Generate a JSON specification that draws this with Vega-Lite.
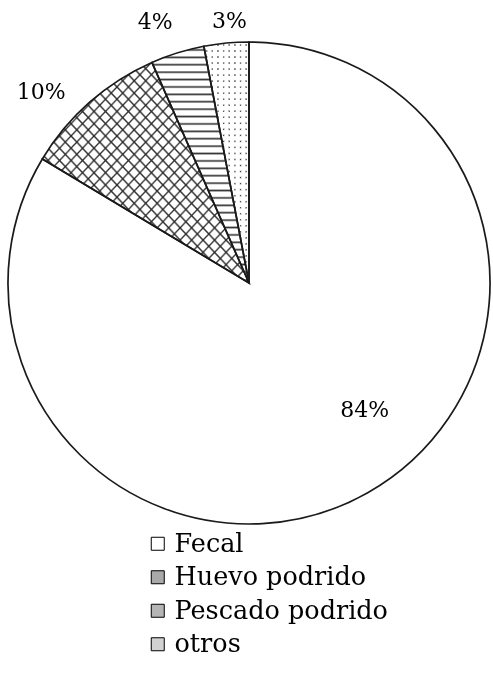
{
"$schema": "https://vega.github.io/schema/vega-lite/v6.json",
"width": 498, "height": 558, "padding": 0, "autosize": "pad",
"background": "white",
"config": {"view": {"stroke": null}, "font": "DejaVu Serif"},
"data": {"values": [
 {"cat": "Fecal", "value": 83.6, "ord": 1, "label": "84%"},
 {"cat": "Huevo podrido", "value": 9.8, "ord": 2, "label": "10%"},
 {"cat": "Pescado podrido", "value": 3.6, "ord": 3, "label": "4%"},
 {"cat": "otros", "value": 3.0, "ord": 4, "label": "3%"}
]},
"encoding": {
 "theta": {"field": "value", "type": "quantitative", "stack": true},
 "order": {"field": "ord", "type": "quantitative"}
},
"layer": [
 {"mark": {"type": "arc", "radius": 241},
  "encoding": {"color": {"field": "cat", "type": "nominal",
   "scale": {"domain": ["Fecal", "Huevo podrido", "Pescado podrido", "otros"], "range": ["#ffffff", "#a9a9a9", "#b5b5b5", "#d2d2d2"]},
   "legend": {"title": null, "orient": "none", "legendX": 145, "legendY": 527, "direction": "vertical", "symbolType": "square", "symbolSize": 169, "symbolStrokeColor": "black", "symbolStrokeWidth": 1, "labelFont": "DejaVu Serif", "labelFontSize": 25.5, "labelColor": "black", "labelOffset": 4, "rowPadding": 6.5, "padding": 0, "labelLimit": 400}}}},
 {"mark": {"type": "arc", "radius": 241},
  "encoding": {"fill": {"condition": {"test": "datum.cat === 'Huevo podrido'", "value": {"gradient": "linear", "x1": 0, "y1": 0, "x2": 1, "y2": 1, "stops": [
{"offset":0.0094,"color":"#fff"},{"offset":0.0139,"color":"#333"},{"offset":0.0184,"color":"#fff"},
{"offset":0.0372,"color":"#fff"},{"offset":0.0417,"color":"#333"},{"offset":0.0462,"color":"#fff"},
{"offset":0.0649,"color":"#fff"},{"offset":0.0694,"color":"#333"},{"offset":0.0739,"color":"#fff"},
{"offset":0.0927,"color":"#fff"},{"offset":0.0972,"color":"#333"},{"offset":0.1017,"color":"#fff"},
{"offset":0.1205,"color":"#fff"},{"offset":0.125,"color":"#333"},{"offset":0.1295,"color":"#fff"},
{"offset":0.1483,"color":"#fff"},{"offset":0.1528,"color":"#333"},{"offset":0.1573,"color":"#fff"},
{"offset":0.1761,"color":"#fff"},{"offset":0.1806,"color":"#333"},{"offset":0.1851,"color":"#fff"},
{"offset":0.2038,"color":"#fff"},{"offset":0.2083,"color":"#333"},{"offset":0.2128,"color":"#fff"},
{"offset":0.2316,"color":"#fff"},{"offset":0.2361,"color":"#333"},{"offset":0.2406,"color":"#fff"},
{"offset":0.2594,"color":"#fff"},{"offset":0.2639,"color":"#333"},{"offset":0.2684,"color":"#fff"},
{"offset":0.2872,"color":"#fff"},{"offset":0.2917,"color":"#333"},{"offset":0.2962,"color":"#fff"},
{"offset":0.3149,"color":"#fff"},{"offset":0.3194,"color":"#333"},{"offset":0.3239,"color":"#fff"},
{"offset":0.3427,"color":"#fff"},{"offset":0.3472,"color":"#333"},{"offset":0.3517,"color":"#fff"},
{"offset":0.3705,"color":"#fff"},{"offset":0.375,"color":"#333"},{"offset":0.3795,"color":"#fff"},
{"offset":0.3983,"color":"#fff"},{"offset":0.4028,"color":"#333"},{"offset":0.4073,"color":"#fff"},
{"offset":0.4261,"color":"#fff"},{"offset":0.4306,"color":"#333"},{"offset":0.4351,"color":"#fff"},
{"offset":0.4538,"color":"#fff"},{"offset":0.4583,"color":"#333"},{"offset":0.4628,"color":"#fff"},
{"offset":0.4816,"color":"#fff"},{"offset":0.4861,"color":"#333"},{"offset":0.4906,"color":"#fff"},
{"offset":0.5094,"color":"#fff"},{"offset":0.5139,"color":"#333"},{"offset":0.5184,"color":"#fff"},
{"offset":0.5372,"color":"#fff"},{"offset":0.5417,"color":"#333"},{"offset":0.5462,"color":"#fff"},
{"offset":0.5649,"color":"#fff"},{"offset":0.5694,"color":"#333"},{"offset":0.5739,"color":"#fff"},
{"offset":0.5927,"color":"#fff"},{"offset":0.5972,"color":"#333"},{"offset":0.6017,"color":"#fff"},
{"offset":0.6205,"color":"#fff"},{"offset":0.625,"color":"#333"},{"offset":0.6295,"color":"#fff"},
{"offset":0.6483,"color":"#fff"},{"offset":0.6528,"color":"#333"},{"offset":0.6573,"color":"#fff"},
{"offset":0.6761,"color":"#fff"},{"offset":0.6806,"color":"#333"},{"offset":0.6851,"color":"#fff"},
{"offset":0.7038,"color":"#fff"},{"offset":0.7083,"color":"#333"},{"offset":0.7128,"color":"#fff"},
{"offset":0.7316,"color":"#fff"},{"offset":0.7361,"color":"#333"},{"offset":0.7406,"color":"#fff"},
{"offset":0.7594,"color":"#fff"},{"offset":0.7639,"color":"#333"},{"offset":0.7684,"color":"#fff"},
{"offset":0.7872,"color":"#fff"},{"offset":0.7917,"color":"#333"},{"offset":0.7962,"color":"#fff"},
{"offset":0.8149,"color":"#fff"},{"offset":0.8194,"color":"#333"},{"offset":0.8239,"color":"#fff"},
{"offset":0.8427,"color":"#fff"},{"offset":0.8472,"color":"#333"},{"offset":0.8517,"color":"#fff"},
{"offset":0.8705,"color":"#fff"},{"offset":0.875,"color":"#333"},{"offset":0.8795,"color":"#fff"},
{"offset":0.8983,"color":"#fff"},{"offset":0.9028,"color":"#333"},{"offset":0.9073,"color":"#fff"},
{"offset":0.9261,"color":"#fff"},{"offset":0.9306,"color":"#333"},{"offset":0.9351,"color":"#fff"},
{"offset":0.9538,"color":"#fff"},{"offset":0.9583,"color":"#333"},{"offset":0.9628,"color":"#fff"},
{"offset":0.9816,"color":"#fff"},{"offset":0.9861,"color":"#333"},{"offset":0.9906,"color":"#fff"}
]}}, "value": null}}},
 {"mark": {"type": "arc", "radius": 241},
  "encoding": {"fill": {"condition": {"test": "datum.cat === 'Huevo podrido'", "value": {"gradient": "linear", "x1": 1, "y1": 0, "x2": 0, "y2": 1, "stops": [
{"offset":0.0094,"color":"rgba(0,0,0,0)"},{"offset":0.0139,"color":"#333"},{"offset":0.0184,"color":"rgba(0,0,0,0)"},
{"offset":0.0372,"color":"rgba(0,0,0,0)"},{"offset":0.0417,"color":"#333"},{"offset":0.0462,"color":"rgba(0,0,0,0)"},
{"offset":0.0649,"color":"rgba(0,0,0,0)"},{"offset":0.0694,"color":"#333"},{"offset":0.0739,"color":"rgba(0,0,0,0)"},
{"offset":0.0927,"color":"rgba(0,0,0,0)"},{"offset":0.0972,"color":"#333"},{"offset":0.1017,"color":"rgba(0,0,0,0)"},
{"offset":0.1205,"color":"rgba(0,0,0,0)"},{"offset":0.125,"color":"#333"},{"offset":0.1295,"color":"rgba(0,0,0,0)"},
{"offset":0.1483,"color":"rgba(0,0,0,0)"},{"offset":0.1528,"color":"#333"},{"offset":0.1573,"color":"rgba(0,0,0,0)"},
{"offset":0.1761,"color":"rgba(0,0,0,0)"},{"offset":0.1806,"color":"#333"},{"offset":0.1851,"color":"rgba(0,0,0,0)"},
{"offset":0.2038,"color":"rgba(0,0,0,0)"},{"offset":0.2083,"color":"#333"},{"offset":0.2128,"color":"rgba(0,0,0,0)"},
{"offset":0.2316,"color":"rgba(0,0,0,0)"},{"offset":0.2361,"color":"#333"},{"offset":0.2406,"color":"rgba(0,0,0,0)"},
{"offset":0.2594,"color":"rgba(0,0,0,0)"},{"offset":0.2639,"color":"#333"},{"offset":0.2684,"color":"rgba(0,0,0,0)"},
{"offset":0.2872,"color":"rgba(0,0,0,0)"},{"offset":0.2917,"color":"#333"},{"offset":0.2962,"color":"rgba(0,0,0,0)"},
{"offset":0.3149,"color":"rgba(0,0,0,0)"},{"offset":0.3194,"color":"#333"},{"offset":0.3239,"color":"rgba(0,0,0,0)"},
{"offset":0.3427,"color":"rgba(0,0,0,0)"},{"offset":0.3472,"color":"#333"},{"offset":0.3517,"color":"rgba(0,0,0,0)"},
{"offset":0.3705,"color":"rgba(0,0,0,0)"},{"offset":0.375,"color":"#333"},{"offset":0.3795,"color":"rgba(0,0,0,0)"},
{"offset":0.3983,"color":"rgba(0,0,0,0)"},{"offset":0.4028,"color":"#333"},{"offset":0.4073,"color":"rgba(0,0,0,0)"},
{"offset":0.4261,"color":"rgba(0,0,0,0)"},{"offset":0.4306,"color":"#333"},{"offset":0.4351,"color":"rgba(0,0,0,0)"},
{"offset":0.4538,"color":"rgba(0,0,0,0)"},{"offset":0.4583,"color":"#333"},{"offset":0.4628,"color":"rgba(0,0,0,0)"},
{"offset":0.4816,"color":"rgba(0,0,0,0)"},{"offset":0.4861,"color":"#333"},{"offset":0.4906,"color":"rgba(0,0,0,0)"},
{"offset":0.5094,"color":"rgba(0,0,0,0)"},{"offset":0.5139,"color":"#333"},{"offset":0.5184,"color":"rgba(0,0,0,0)"},
{"offset":0.5372,"color":"rgba(0,0,0,0)"},{"offset":0.5417,"color":"#333"},{"offset":0.5462,"color":"rgba(0,0,0,0)"},
{"offset":0.5649,"color":"rgba(0,0,0,0)"},{"offset":0.5694,"color":"#333"},{"offset":0.5739,"color":"rgba(0,0,0,0)"},
{"offset":0.5927,"color":"rgba(0,0,0,0)"},{"offset":0.5972,"color":"#333"},{"offset":0.6017,"color":"rgba(0,0,0,0)"},
{"offset":0.6205,"color":"rgba(0,0,0,0)"},{"offset":0.625,"color":"#333"},{"offset":0.6295,"color":"rgba(0,0,0,0)"},
{"offset":0.6483,"color":"rgba(0,0,0,0)"},{"offset":0.6528,"color":"#333"},{"offset":0.6573,"color":"rgba(0,0,0,0)"},
{"offset":0.6761,"color":"rgba(0,0,0,0)"},{"offset":0.6806,"color":"#333"},{"offset":0.6851,"color":"rgba(0,0,0,0)"},
{"offset":0.7038,"color":"rgba(0,0,0,0)"},{"offset":0.7083,"color":"#333"},{"offset":0.7128,"color":"rgba(0,0,0,0)"},
{"offset":0.7316,"color":"rgba(0,0,0,0)"},{"offset":0.7361,"color":"#333"},{"offset":0.7406,"color":"rgba(0,0,0,0)"},
{"offset":0.7594,"color":"rgba(0,0,0,0)"},{"offset":0.7639,"color":"#333"},{"offset":0.7684,"color":"rgba(0,0,0,0)"},
{"offset":0.7872,"color":"rgba(0,0,0,0)"},{"offset":0.7917,"color":"#333"},{"offset":0.7962,"color":"rgba(0,0,0,0)"},
{"offset":0.8149,"color":"rgba(0,0,0,0)"},{"offset":0.8194,"color":"#333"},{"offset":0.8239,"color":"rgba(0,0,0,0)"},
{"offset":0.8427,"color":"rgba(0,0,0,0)"},{"offset":0.8472,"color":"#333"},{"offset":0.8517,"color":"rgba(0,0,0,0)"},
{"offset":0.8705,"color":"rgba(0,0,0,0)"},{"offset":0.875,"color":"#333"},{"offset":0.8795,"color":"rgba(0,0,0,0)"},
{"offset":0.8983,"color":"rgba(0,0,0,0)"},{"offset":0.9028,"color":"#333"},{"offset":0.9073,"color":"rgba(0,0,0,0)"},
{"offset":0.9261,"color":"rgba(0,0,0,0)"},{"offset":0.9306,"color":"#333"},{"offset":0.9351,"color":"rgba(0,0,0,0)"},
{"offset":0.9538,"color":"rgba(0,0,0,0)"},{"offset":0.9583,"color":"#333"},{"offset":0.9628,"color":"rgba(0,0,0,0)"},
{"offset":0.9816,"color":"rgba(0,0,0,0)"},{"offset":0.9861,"color":"#333"},{"offset":0.9906,"color":"rgba(0,0,0,0)"}
]}}, "value": null}}},
 {"mark": {"type": "arc", "radius": 241},
  "encoding": {"fill": {"condition": {"test": "datum.cat === 'Pescado podrido'", "value": {"gradient": "linear", "x1": 0, "y1": 0, "x2": 0, "y2": 1, "stops": [
{"offset":0.0086,"color":"#fff"},{"offset":0.0156,"color":"#333"},{"offset":0.0226,"color":"#fff"},
{"offset":0.0399,"color":"#fff"},{"offset":0.0469,"color":"#333"},{"offset":0.0539,"color":"#fff"},
{"offset":0.0711,"color":"#fff"},{"offset":0.0781,"color":"#333"},{"offset":0.0851,"color":"#fff"},
{"offset":0.1024,"color":"#fff"},{"offset":0.1094,"color":"#333"},{"offset":0.1164,"color":"#fff"},
{"offset":0.1336,"color":"#fff"},{"offset":0.1406,"color":"#333"},{"offset":0.1476,"color":"#fff"},
{"offset":0.1649,"color":"#fff"},{"offset":0.1719,"color":"#333"},{"offset":0.1789,"color":"#fff"},
{"offset":0.1961,"color":"#fff"},{"offset":0.2031,"color":"#333"},{"offset":0.2101,"color":"#fff"},
{"offset":0.2274,"color":"#fff"},{"offset":0.2344,"color":"#333"},{"offset":0.2414,"color":"#fff"},
{"offset":0.2586,"color":"#fff"},{"offset":0.2656,"color":"#333"},{"offset":0.2726,"color":"#fff"},
{"offset":0.2899,"color":"#fff"},{"offset":0.2969,"color":"#333"},{"offset":0.3039,"color":"#fff"},
{"offset":0.3211,"color":"#fff"},{"offset":0.3281,"color":"#333"},{"offset":0.3351,"color":"#fff"},
{"offset":0.3524,"color":"#fff"},{"offset":0.3594,"color":"#333"},{"offset":0.3664,"color":"#fff"},
{"offset":0.3836,"color":"#fff"},{"offset":0.3906,"color":"#333"},{"offset":0.3976,"color":"#fff"},
{"offset":0.4149,"color":"#fff"},{"offset":0.4219,"color":"#333"},{"offset":0.4289,"color":"#fff"},
{"offset":0.4461,"color":"#fff"},{"offset":0.4531,"color":"#333"},{"offset":0.4601,"color":"#fff"},
{"offset":0.4774,"color":"#fff"},{"offset":0.4844,"color":"#333"},{"offset":0.4914,"color":"#fff"},
{"offset":0.5086,"color":"#fff"},{"offset":0.5156,"color":"#333"},{"offset":0.5226,"color":"#fff"},
{"offset":0.5399,"color":"#fff"},{"offset":0.5469,"color":"#333"},{"offset":0.5539,"color":"#fff"},
{"offset":0.5711,"color":"#fff"},{"offset":0.5781,"color":"#333"},{"offset":0.5851,"color":"#fff"},
{"offset":0.6024,"color":"#fff"},{"offset":0.6094,"color":"#333"},{"offset":0.6164,"color":"#fff"},
{"offset":0.6336,"color":"#fff"},{"offset":0.6406,"color":"#333"},{"offset":0.6476,"color":"#fff"},
{"offset":0.6649,"color":"#fff"},{"offset":0.6719,"color":"#333"},{"offset":0.6789,"color":"#fff"},
{"offset":0.6961,"color":"#fff"},{"offset":0.7031,"color":"#333"},{"offset":0.7101,"color":"#fff"},
{"offset":0.7274,"color":"#fff"},{"offset":0.7344,"color":"#333"},{"offset":0.7414,"color":"#fff"},
{"offset":0.7586,"color":"#fff"},{"offset":0.7656,"color":"#333"},{"offset":0.7726,"color":"#fff"},
{"offset":0.7899,"color":"#fff"},{"offset":0.7969,"color":"#333"},{"offset":0.8039,"color":"#fff"},
{"offset":0.8211,"color":"#fff"},{"offset":0.8281,"color":"#333"},{"offset":0.8351,"color":"#fff"},
{"offset":0.8524,"color":"#fff"},{"offset":0.8594,"color":"#333"},{"offset":0.8664,"color":"#fff"},
{"offset":0.8836,"color":"#fff"},{"offset":0.8906,"color":"#333"},{"offset":0.8976,"color":"#fff"},
{"offset":0.9149,"color":"#fff"},{"offset":0.9219,"color":"#333"},{"offset":0.9289,"color":"#fff"},
{"offset":0.9461,"color":"#fff"},{"offset":0.9531,"color":"#333"},{"offset":0.9601,"color":"#fff"},
{"offset":0.9774,"color":"#fff"},{"offset":0.9844,"color":"#333"},{"offset":0.9914,"color":"#fff"}
]}}, "value": null}}},
 {"mark": {"type": "arc", "radius": 241},
  "encoding": {"fill": {"condition": {"test": "datum.cat === 'otros'", "value": {"gradient": "linear", "x1": 0, "y1": 0, "x2": 1, "y2": 0, "stops": [
{"offset":0.0375,"color":"#fff"},{"offset":0.0625,"color":"#333"},{"offset":0.0875,"color":"#fff"},
{"offset":0.1625,"color":"#fff"},{"offset":0.1875,"color":"#333"},{"offset":0.2125,"color":"#fff"},
{"offset":0.2875,"color":"#fff"},{"offset":0.3125,"color":"#333"},{"offset":0.3375,"color":"#fff"},
{"offset":0.4125,"color":"#fff"},{"offset":0.4375,"color":"#333"},{"offset":0.4625,"color":"#fff"},
{"offset":0.5375,"color":"#fff"},{"offset":0.5625,"color":"#333"},{"offset":0.5875,"color":"#fff"},
{"offset":0.6625,"color":"#fff"},{"offset":0.6875,"color":"#333"},{"offset":0.7125,"color":"#fff"},
{"offset":0.7875,"color":"#fff"},{"offset":0.8125,"color":"#333"},{"offset":0.8375,"color":"#fff"},
{"offset":0.9125,"color":"#fff"},{"offset":0.9375,"color":"#333"},{"offset":0.9625,"color":"#fff"}
]}}, "value": null}}},
 {"mark": {"type": "arc", "radius": 241, "blend": "lighten"},
  "encoding": {"fill": {"condition": {"test": "datum.cat === 'otros'", "value": {"gradient": "linear", "x1": 0, "y1": 0, "x2": 0, "y2": 1, "stops": [
{"offset":0.0075,"color":"#fff"},{"offset":0.0125,"color":"#333"},{"offset":0.0175,"color":"#fff"},
{"offset":0.0325,"color":"#fff"},{"offset":0.0375,"color":"#333"},{"offset":0.0425,"color":"#fff"},
{"offset":0.0575,"color":"#fff"},{"offset":0.0625,"color":"#333"},{"offset":0.0675,"color":"#fff"},
{"offset":0.0825,"color":"#fff"},{"offset":0.0875,"color":"#333"},{"offset":0.0925,"color":"#fff"},
{"offset":0.1075,"color":"#fff"},{"offset":0.1125,"color":"#333"},{"offset":0.1175,"color":"#fff"},
{"offset":0.1325,"color":"#fff"},{"offset":0.1375,"color":"#333"},{"offset":0.1425,"color":"#fff"},
{"offset":0.1575,"color":"#fff"},{"offset":0.1625,"color":"#333"},{"offset":0.1675,"color":"#fff"},
{"offset":0.1825,"color":"#fff"},{"offset":0.1875,"color":"#333"},{"offset":0.1925,"color":"#fff"},
{"offset":0.2075,"color":"#fff"},{"offset":0.2125,"color":"#333"},{"offset":0.2175,"color":"#fff"},
{"offset":0.2325,"color":"#fff"},{"offset":0.2375,"color":"#333"},{"offset":0.2425,"color":"#fff"},
{"offset":0.2575,"color":"#fff"},{"offset":0.2625,"color":"#333"},{"offset":0.2675,"color":"#fff"},
{"offset":0.2825,"color":"#fff"},{"offset":0.2875,"color":"#333"},{"offset":0.2925,"color":"#fff"},
{"offset":0.3075,"color":"#fff"},{"offset":0.3125,"color":"#333"},{"offset":0.3175,"color":"#fff"},
{"offset":0.3325,"color":"#fff"},{"offset":0.3375,"color":"#333"},{"offset":0.3425,"color":"#fff"},
{"offset":0.3575,"color":"#fff"},{"offset":0.3625,"color":"#333"},{"offset":0.3675,"color":"#fff"},
{"offset":0.3825,"color":"#fff"},{"offset":0.3875,"color":"#333"},{"offset":0.3925,"color":"#fff"},
{"offset":0.4075,"color":"#fff"},{"offset":0.4125,"color":"#333"},{"offset":0.4175,"color":"#fff"},
{"offset":0.4325,"color":"#fff"},{"offset":0.4375,"color":"#333"},{"offset":0.4425,"color":"#fff"},
{"offset":0.4575,"color":"#fff"},{"offset":0.4625,"color":"#333"},{"offset":0.4675,"color":"#fff"},
{"offset":0.4825,"color":"#fff"},{"offset":0.4875,"color":"#333"},{"offset":0.4925,"color":"#fff"},
{"offset":0.5075,"color":"#fff"},{"offset":0.5125,"color":"#333"},{"offset":0.5175,"color":"#fff"},
{"offset":0.5325,"color":"#fff"},{"offset":0.5375,"color":"#333"},{"offset":0.5425,"color":"#fff"},
{"offset":0.5575,"color":"#fff"},{"offset":0.5625,"color":"#333"},{"offset":0.5675,"color":"#fff"},
{"offset":0.5825,"color":"#fff"},{"offset":0.5875,"color":"#333"},{"offset":0.5925,"color":"#fff"},
{"offset":0.6075,"color":"#fff"},{"offset":0.6125,"color":"#333"},{"offset":0.6175,"color":"#fff"},
{"offset":0.6325,"color":"#fff"},{"offset":0.6375,"color":"#333"},{"offset":0.6425,"color":"#fff"},
{"offset":0.6575,"color":"#fff"},{"offset":0.6625,"color":"#333"},{"offset":0.6675,"color":"#fff"},
{"offset":0.6825,"color":"#fff"},{"offset":0.6875,"color":"#333"},{"offset":0.6925,"color":"#fff"},
{"offset":0.7075,"color":"#fff"},{"offset":0.7125,"color":"#333"},{"offset":0.7175,"color":"#fff"},
{"offset":0.7325,"color":"#fff"},{"offset":0.7375,"color":"#333"},{"offset":0.7425,"color":"#fff"},
{"offset":0.7575,"color":"#fff"},{"offset":0.7625,"color":"#333"},{"offset":0.7675,"color":"#fff"},
{"offset":0.7825,"color":"#fff"},{"offset":0.7875,"color":"#333"},{"offset":0.7925,"color":"#fff"},
{"offset":0.8075,"color":"#fff"},{"offset":0.8125,"color":"#333"},{"offset":0.8175,"color":"#fff"},
{"offset":0.8325,"color":"#fff"},{"offset":0.8375,"color":"#333"},{"offset":0.8425,"color":"#fff"},
{"offset":0.8575,"color":"#fff"},{"offset":0.8625,"color":"#333"},{"offset":0.8675,"color":"#fff"},
{"offset":0.8825,"color":"#fff"},{"offset":0.8875,"color":"#333"},{"offset":0.8925,"color":"#fff"},
{"offset":0.9075,"color":"#fff"},{"offset":0.9125,"color":"#333"},{"offset":0.9175,"color":"#fff"},
{"offset":0.9325,"color":"#fff"},{"offset":0.9375,"color":"#333"},{"offset":0.9425,"color":"#fff"},
{"offset":0.9575,"color":"#fff"},{"offset":0.9625,"color":"#333"},{"offset":0.9675,"color":"#fff"},
{"offset":0.9825,"color":"#fff"},{"offset":0.9875,"color":"#333"},{"offset":0.9925,"color":"#fff"}
]}}, "value": null}}},
 {"mark": {"type": "arc", "radius": 241, "filled": false, "stroke": "#1a1a1a", "strokeWidth": 1.7}},
 {"mark": {"type": "text", "radius": 174, "dx": 30, "dy": -24, "font": "DejaVu Serif", "fontSize": 22, "color": "black"},
  "encoding": {"text": {"condition": {"test": "datum.cat === 'Fecal'", "field": "label"}, "value": ""}}},
 {"mark": {"type": "text", "radius": 272, "dx": -28, "dy": 13, "font": "DejaVu Serif", "fontSize": 22, "color": "black"},
  "encoding": {"text": {"condition": {"test": "datum.cat === 'Huevo podrido'", "field": "label"}, "value": ""}}},
 {"mark": {"type": "text", "radius": 272, "dx": -13, "dy": -1, "font": "DejaVu Serif", "fontSize": 22, "color": "black"},
  "encoding": {"text": {"condition": {"test": "datum.cat === 'Pescado podrido'", "field": "label"}, "value": ""}}},
 {"mark": {"type": "text", "radius": 260, "dx": 5, "dy": -3, "font": "DejaVu Serif", "fontSize": 22, "color": "black"},
  "encoding": {"text": {"condition": {"test": "datum.cat === 'otros'", "field": "label"}, "value": ""}}}
]
}
